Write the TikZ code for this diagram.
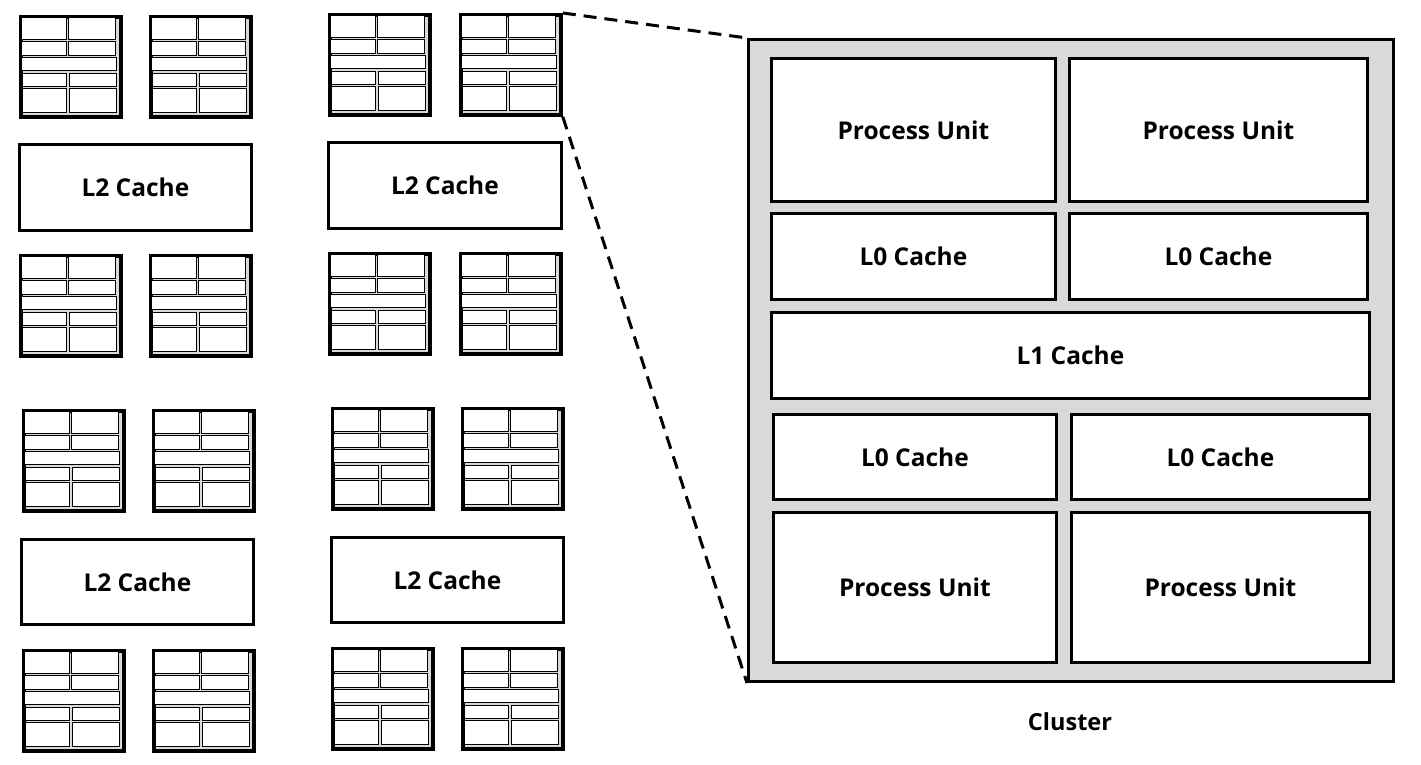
\documentclass[tikz,border=0pt]{standalone}
\usepackage{fontspec}
\setmainfont{Open Sans}
\definecolor{clgray}{RGB}{217,217,217}
\tikzset{
  unitbox/.style={draw, line width=2.8pt, fill=white, inner sep=0pt, anchor=north west,
    font=\bfseries\fontsize{24.5}{28}\selectfont},
  clframe/.style={draw, line width=3pt, fill=clgray, inner sep=0pt, anchor=north west},
  iconframe/.style={draw, line width=3.8pt, fill=clgray, inner sep=0pt, anchor=north west,
    minimum width=100pt, minimum height=100pt},
  iconcell/.style={draw, line width=1pt, fill=white},
  zoomline/.style={line width=3pt, dash pattern=on 13pt off 8pt},
  caption/.style={font=\bfseries\fontsize{23.5}{27}\selectfont}
}
\newcommand\chipicon[3]{%
  \node[iconframe] (#1) at (#2+1,#3+1) {};
  \begin{scope}[shift={(#2,#3)}, scale=0.1577]
    \foreach \a/\b/\c/\d in {24/20/308/163, 322/20/620/163, 24/175/308/261, 322/175/620/261,
      24/274/622/360, 26/376/309/461, 324/376/622/461, 26/474/309/624, 324/474/622/624}
      \draw[iconcell] (\a,\b) rectangle (\c,\d);
  \end{scope}}
\newcommand\ubox[6]{% name, x1, y1, x2, y2, text
  \node[unitbox, minimum width={#4-#2}, minimum height={#5-#3}] (#1) at (#2,#3) {#6};}
\begin{document}
\begin{tikzpicture}[x=1pt,y=-1pt]
\useasboundingbox (0,0) rectangle (1421,765);
% left icons
\chipicon{a1}{18}{14}   \chipicon{a2}{148}{14}  \chipicon{a3}{327}{12}  \chipicon{a4}{458}{12}
\chipicon{b1}{18}{253}  \chipicon{b2}{148}{253} \chipicon{b3}{327}{251} \chipicon{b4}{458}{251}
\chipicon{c1}{21}{408}  \chipicon{c2}{151}{408} \chipicon{c3}{330}{406} \chipicon{c4}{460}{406}
\chipicon{d1}{21}{648}  \chipicon{d2}{151}{648} \chipicon{d3}{330}{646} \chipicon{d4}{460}{646}
% L2 caches
\ubox{l2a}{18}{143}{250}{229}{L2 Cache}
\ubox{l2b}{327}{141}{560}{227}{L2 Cache}
\ubox{l2c}{20}{538}{252}{623}{L2 Cache}
\ubox{l2d}{330}{536}{562}{621}{L2 Cache}
% cluster
\node[clframe, minimum width=645pt, minimum height=642pt] (cl) at (747,38) {};
\ubox{pu1}{770}{57}{1054}{200}{Process Unit}
\ubox{pu2}{1068}{57}{1366}{200}{Process Unit}
\ubox{l0a}{770}{212}{1054}{298}{L0 Cache}
\ubox{l0b}{1068}{212}{1366}{298}{L0 Cache}
\ubox{l1}{770}{311}{1368}{397}{L1 Cache}
\ubox{l0c}{772}{413}{1055}{498}{L0 Cache}
\ubox{l0d}{1070}{413}{1368}{498}{L0 Cache}
\ubox{pu3}{772}{511}{1055}{661}{Process Unit}
\ubox{pu4}{1070}{511}{1368}{661}{Process Unit}
\node[caption] (cap) at (1070,722) {Cluster};
% zoom lines
\draw[zoomline] (a4.north east) -- (cl.north west);
\draw[zoomline] (a4.south east) -- (cl.south west);
\end{tikzpicture}
\end{document}
